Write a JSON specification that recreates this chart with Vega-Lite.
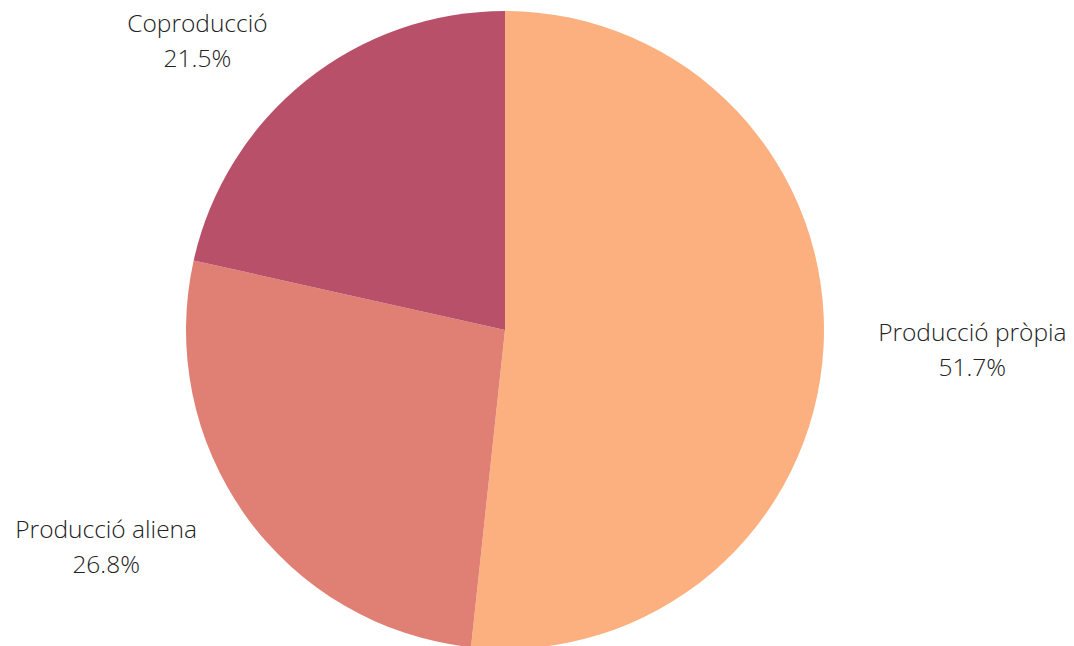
{
  "$schema": "https://vega.github.io/schema/vega-lite/v6.json",
  "width": 1010,
  "height": 632,
  "autosize": "none",
  "padding": {"left": 0, "top": 14, "right": 64, "bottom": 0},
  "background": "white",
  "config": {"view": {"stroke": null}},
  "data": {
    "values": [
      {"cat": "Producció pròpia", "value": 51.7},
      {"cat": "Producció aliena", "value": 26.8},
      {"cat": "Coproducció", "value": 21.5}
    ]
  },
  "encoding": {
    "theta": {"field": "value", "type": "quantitative", "stack": true},
    "order": {"field": "value", "type": "quantitative", "sort": "descending"}
  },
  "layer": [
    {
      "mark": {"type": "arc", "outerRadius": 319},
      "encoding": {
        "color": {
          "field": "cat",
          "type": "nominal",
          "scale": {
            "domain": ["Producció pròpia", "Producció aliena", "Coproducció"],
            "range": ["#FDB07F", "#E07F73", "#B8506A"]
          },
          "legend": null
        }
      }
    },
    {
      "mark": {
        "type": "text",
        "radius": 460,
        "font": "Open Sans",
        "fontWeight": 300,
        "fontSize": 24.5,
        "lineHeight": 35,
        "align": "center",
        "baseline": "middle",
        "color": "#222222",
        "text": {"expr": "[datum.cat, format(datum.value, '.1f') + '%']"},
        "dx": {"expr": "datum.cat === 'Producció pròpia' ? 8 : datum.cat === 'Producció aliena' ? -25 : -20"},
        "dy": {"expr": "datum.cat === 'Producció pròpia' ? -21 : datum.cat === 'Producció aliena' ? -67 : 54"}
      }
    }
  ]
}
